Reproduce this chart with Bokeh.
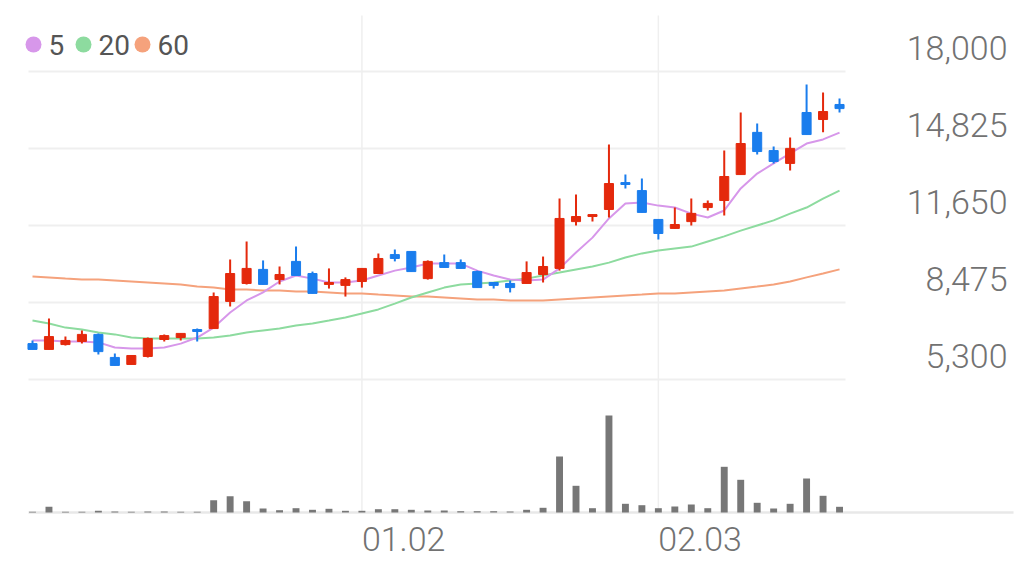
import numpy as np
from bokeh.core.properties import value
from bokeh.embed import file_html
from bokeh.models import ColumnDataSource, Range1d
from bokeh.plotting import figure
from bokeh.resources import INLINE

# daily candles, oldest first
opens = [6780, 6540, 6740, 6870, 7160, 6210, 5920, 6250, 6950, 7030,
         7360, 7400, 8520, 9260, 9840, 9420, 10170, 9670, 9220, 9180,
         9340, 9670, 10450, 10580, 9460, 10120, 10120, 9750, 9300, 9260,
         9260, 9630, 9880, 11810, 12020, 12310, 13420, 13090, 11900, 11530,
         11810, 12390, 12680, 13750, 15490, 14740, 14210, 16310, 16020, 16640]
highs = [6910, 7820, 7070, 7320, 7200, 6370, 6290, 7030, 7160, 7200,
         7400, 8890, 10250, 10990, 10210, 9960, 10780, 9750, 9880, 9510,
         9880, 10500, 10660, 10580, 10210, 10450, 10250, 9790, 9300, 9380,
         10170, 10370, 12760, 12930, 12100, 14990, 13750, 13590, 11900, 12390,
         12760, 12680, 14740, 16310, 15860, 14910, 15280, 17460, 17130, 16890]
lows = [6540, 6540, 6700, 6780, 6330, 5880, 5920, 6210, 6870, 6910,
        6870, 7400, 8310, 9220, 9220, 9220, 9590, 8850, 9050, 8720,
        9090, 9670, 10170, 9750, 9420, 9920, 9880, 9090, 9050, 8890,
        9260, 9300, 9790, 11650, 11810, 11980, 13180, 12190, 11070, 11530,
        11650, 12270, 12060, 13750, 14580, 14210, 13920, 15400, 15490, 16310]
closes = [6540, 7070, 6910, 7160, 6450, 5880, 6290, 6990, 7110, 7200,
          7280, 8720, 9670, 9880, 9220, 9630, 9590, 8850, 9300, 9420,
          9880, 10290, 10290, 9750, 10170, 9920, 9880, 9090, 9180, 9090,
          9710, 9960, 11940, 12020, 12100, 13380, 13340, 12190, 11320, 11690,
          12150, 12560, 13670, 15030, 14700, 14290, 14830, 15400, 16350, 16470]
# volume, thousand shares
volumes = [14, 114, 14, 14, 34, 20, 14, 20, 20, 14,
           14, 246, 326, 226, 80, 46, 86, 54, 74, 34,
           34, 66, 66, 54, 40, 40, 26, 26, 26, 20,
           54, 94, 1120, 534, 86, 1940, 174, 146, 86, 120,
           160, 86, 914, 654, 194, 80, 174, 680, 334, 114]

# moving averages as shown
ma5 = [6910, 6910, 6870, 6870, 6830, 6620, 6580, 6580, 6620, 6780,
       7030, 7440, 8060, 8560, 8890, 9340, 9590, 9460, 9300, 9300,
       9380, 9590, 9790, 9920, 10080, 10080, 10080, 9790, 9590, 9420,
       9380, 9420, 9880, 10540, 11150, 11940, 12560, 12600, 12470, 12390,
       12140, 11980, 12270, 13180, 13790, 14210, 14620, 15030, 15200, 15480]
ma20 = [7730, 7610, 7440, 7360, 7240, 7160, 7030, 6990, 6990, 6990,
        6990, 7030, 7110, 7240, 7320, 7400, 7530, 7610, 7730, 7860,
        8020, 8190, 8430, 8680, 8890, 9090, 9220, 9260, 9300, 9380,
        9460, 9590, 9710, 9840, 9960, 10120, 10330, 10500, 10620, 10700,
        10780, 10990, 11200, 11440, 11650, 11860, 12140, 12390, 12760, 13090]
ma60 = [9550, 9510, 9460, 9420, 9420, 9380, 9340, 9300, 9260, 9220,
        9130, 9090, 9010, 9010, 8970, 8970, 8930, 8930, 8890, 8850,
        8850, 8800, 8760, 8720, 8720, 8680, 8640, 8600, 8600, 8560,
        8560, 8560, 8600, 8640, 8680, 8720, 8760, 8800, 8850, 8850,
        8890, 8930, 8970, 9050, 9130, 9220, 9340, 9510, 9670, 9840]

ma_names = ["5", "20", "60"]
ma_colors = ["#d797ea", "#8ddb9f", "#f5a27c"]

price_ticks = [5300, 8475, 11650, 14825, 18000]
date_ticks = [20, 38]
date_labels = ["01.02", "02.03"]

RED, BLUE = "#e4290c", "#1a7ded"
GRID = "#efefef"
LABEL = "#727272"
FONT = value("Roboto Light")

# canvas geometry (px)
W, H = 1017, 573
STEP = 16.47        # px between candles
X0 = 32             # px of first candle
PRICE_PX = 41.234   # won per px
BASE_Y = 379        # px of the lowest price tick
VOL_PX = 20         # thousand shares per px
VOL_Y = 512         # px of the volume baseline


def px_x(px):
    return (px - X0) / STEP


def px_price(py):
    return price_ticks[0] + (BASE_Y - py) * PRICE_PX


p = figure(width=W, height=H, output_backend="svg", toolbar_location=None,
           x_range=Range1d(px_x(0), px_x(W)),
           y_range=Range1d(px_price(H), px_price(0)),
           x_axis_type=None, y_axis_type=None,
           min_border=0, outline_line_color=None)
p.extra_y_ranges = {"vol": Range1d(-(H - VOL_Y) * VOL_PX, VOL_Y * VOL_PX)}

# grid
n = len(price_ticks)
p.segment([px_x(28)] * n, price_ticks, [px_x(845)] * n, price_ticks,
          line_color=GRID, line_width=2)
p.segment(date_ticks, [px_price(15)] * 2, date_ticks, [px_price(VOL_Y)] * 2,
          line_color=GRID, line_width=1.5)
p.segment([px_x(28)], [0], [px_x(1013)], [0], y_range_name="vol",
          line_color="#e8e8e8", line_width=2.5)

idx = np.arange(len(closes))
o = np.array(opens)
c = np.array(closes)
src = ColumnDataSource(dict(
    x=idx, high=highs, low=lows,
    top=np.maximum(o, c), bottom=np.minimum(o, c),
    color=np.where(c >= o, RED, BLUE), vol=volumes))

# volume
p.vbar("x", 0.42, "vol", 0, source=src, y_range_name="vol",
       fill_color="#777777", line_color=None)

# moving averages
for ma, col in zip([ma60, ma20, ma5], ma_colors[::-1]):
    p.line(idx, ma, line_color=col, line_width=2)

# candles
p.segment("x", "high", "x", "low", source=src, line_color="color", line_width=2)
p.vbar("x", 0.55, "top", "bottom", source=src,
       fill_color="color", line_color="color", line_width=1)

# price labels (right, above gridline)
p.text([px_x(1007)] * n, price_ticks, text=[f"{t:,}" for t in price_ticks],
       text_align="right", text_baseline="bottom", y_offset=-12,
       text_font=FONT, text_font_size="34px", text_color=LABEL)

# date labels
p.text(date_ticks, [0] * len(date_ticks), text=date_labels, y_range_name="vol",
       text_align="left", text_baseline="middle", y_offset=26,
       text_font=FONT, text_font_size="34px", text_color=LABEL)

# legend
lx = 33
for name, col in zip(ma_names, ma_colors):
    p.scatter([px_x(lx)], [px_price(44)], size=16, fill_color=col, line_color=None)
    p.text([px_x(lx + 15)], [px_price(44)], text=[name],
           text_align="left", text_baseline="middle",
           text_font=value("Roboto"), text_font_size="28px", text_color="#555555")
    lx += 26 + 9 * len(name) + 15

open("out.html", "w").write(file_html(p, INLINE))
